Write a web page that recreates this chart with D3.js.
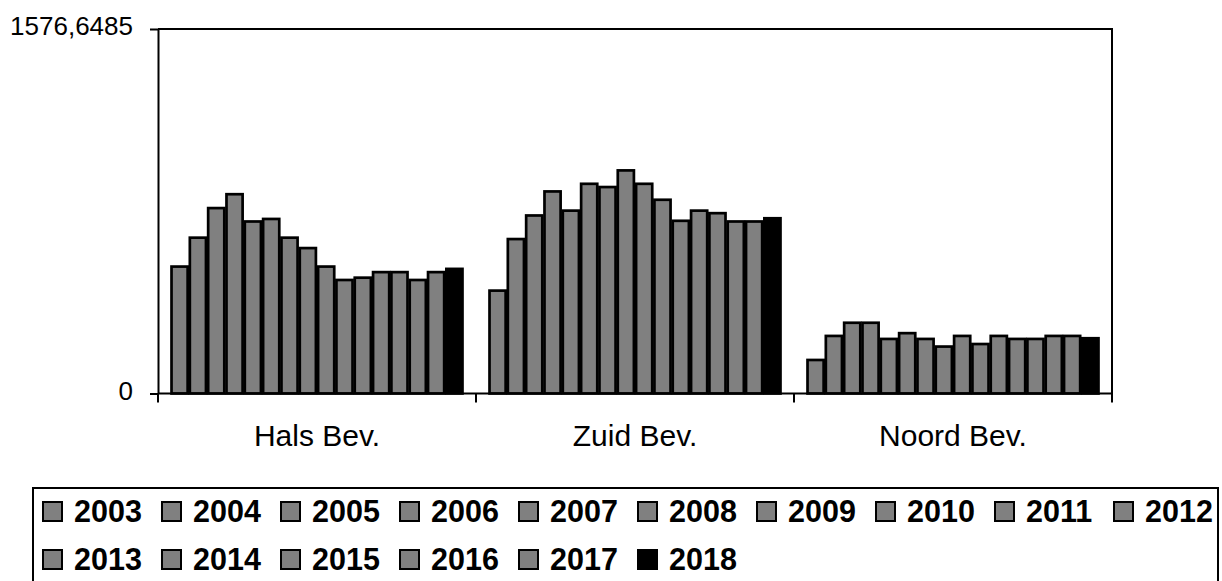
<!DOCTYPE html>
<html>
  <head>
    <script src="https://d3js.org/d3.v7.min.js"></script>
    <style type="text/css">
  body { margin: 0; background: #fff; }
  svg { display: block; font-family: Arial, "Liberation Sans", sans-serif; }
  .bar { stroke: #000; stroke-width: 2.7; }
  .axis path, .axis line { stroke: #000; stroke-width: 2; }
    </style>
  </head>
  <body>
  <div id="container"></div>
  <script type="text/javascript">

  // data
  var groups = ["Hals Bev.", "Zuid Bev.", "Noord Bev."];
  var years = ["2003", "2004", "2005", "2006", "2007", "2008", "2009", "2010",
               "2011", "2012", "2013", "2014", "2015", "2016", "2017", "2018"];
  var halsBev  = [549, 674, 802, 862, 744, 755, 674, 629, 549, 491, 501, 525, 525, 491, 525, 539];
  var zuidBev  = [445, 668, 770, 874, 791, 907, 893, 965, 907, 838, 747, 791, 780, 744, 744, 758];
  var noordBev = [145, 249, 306, 306, 236, 261, 236, 203, 249, 214, 249, 236, 236, 249, 249, 239];
  var yMax = 1576.6485;
  var yTicks = [0, yMax];
  var yTickLabels = ["0", "1576,6485"];

  var seriesByGroup = [halsBev, zuidBev, noordBev];

  var width = 1222, height = 581;
  var plotLeft = 158, plotRight = 1112, plotTop = 29, plotBottom = 393.5;

  var svg = d3.select("#container").append("svg")
      .attr("width", width)
      .attr("height", height);

  var x0 = d3.scaleBand()
      .domain(groups)
      .range([plotLeft, plotRight])
      .paddingInner(0.085)
      .paddingOuter(0.0425);

  var x1 = d3.scaleBand()
      .domain(years)
      .range([0, x0.bandwidth()])
      .paddingInner(0.12);

  var y = d3.scaleLinear()
      .domain([0, yMax])
      .range([plotBottom, plotTop]);

  var color = function(yr) { return yr === "2018" ? "#000" : "#808080"; };

  // bars
  var g = svg.selectAll("g.group")
      .data(groups)
    .enter().append("g")
      .attr("class", "group")
      .attr("transform", function(d) { return "translate(" + x0(d) + ",0)"; });

  g.selectAll("rect")
      .data(function(d, i) { return years.map(function(yr, j) { return {year: yr, value: seriesByGroup[i][j]}; }); })
    .enter().append("rect")
      .attr("class", "bar")
      .attr("x", function(d) { return x1(d.year); })
      .attr("y", function(d) { return y(d.value); })
      .attr("width", x1.bandwidth())
      .attr("height", function(d) { return y(0) - y(d.value); })
      .attr("fill", function(d) { return color(d.year); });

  // frame: top and right
  svg.append("path")
      .attr("fill", "none")
      .attr("stroke", "#000")
      .attr("stroke-width", 2)
      .attr("d", "M" + plotLeft + "," + y(yMax) + "H" + plotRight + "V" + (y(0) + 8));

  // y axis
  var yAxis = svg.append("g")
      .attr("class", "axis")
      .attr("transform", "translate(" + plotLeft + ",0)")
      .call(d3.axisLeft(y)
        .tickValues(yTicks)
        .tickSize(8)
        .tickSizeOuter(0)
        .tickFormat(function(d, i) { return yTickLabels[i]; }));
  yAxis.selectAll("text")
      .attr("font-size", 26)
      .attr("font-family", "Arial, 'Liberation Sans', sans-serif")
      .attr("fill", "#000")
      .attr("x", -25)
      .attr("dy", "0.22em");

  // x axis: baseline with ticks at group boundaries
  var bounds = d3.range(groups.length + 1).map(function(i) { return plotLeft + i * x0.step(); });
  svg.append("line")
      .attr("x1", plotLeft).attr("x2", plotRight)
      .attr("y1", y(0)).attr("y2", y(0))
      .attr("stroke", "#000").attr("stroke-width", 2);
  svg.selectAll("line.xtick")
      .data(bounds)
    .enter().append("line")
      .attr("class", "xtick")
      .attr("x1", function(d) { return d; }).attr("x2", function(d) { return d; })
      .attr("y1", y(0)).attr("y2", y(0) + 9)
      .attr("stroke", "#000").attr("stroke-width", 2);

  svg.selectAll("text.cat")
      .data(groups)
    .enter().append("text")
      .attr("class", "cat")
      .attr("x", function(d) { return x0(d) + x0.bandwidth() / 2; })
      .attr("y", 446)
      .attr("text-anchor", "middle")
      .attr("font-size", 30)
      .text(function(d) { return d; });

  // legend
  var legX = 33, legY = 488, perRow = 10, colW = 119, rowH = 48;
  svg.append("rect")
      .attr("x", legX).attr("y", legY)
      .attr("width", 1185).attr("height", 110)
      .attr("fill", "none").attr("stroke", "#000").attr("stroke-width", 2);

  var li = svg.selectAll("g.leg")
      .data(years)
    .enter().append("g")
      .attr("class", "leg")
      .attr("transform", function(d, i) {
        return "translate(" + (legX + 10 + (i % perRow) * colW) + "," + (legY + 14 + Math.floor(i / perRow) * rowH) + ")";
      });
  li.append("rect")
      .attr("width", 19).attr("height", 19)
      .attr("fill", function(d) { return color(d); })
      .attr("stroke", "#000").attr("stroke-width", 2);
  li.append("text")
      .attr("x", 31).attr("y", 19.5)
      .attr("font-size", 30.5)
      .attr("font-weight", "bold")
      .text(function(d) { return d; });

  </script>
  </body>
</html>
